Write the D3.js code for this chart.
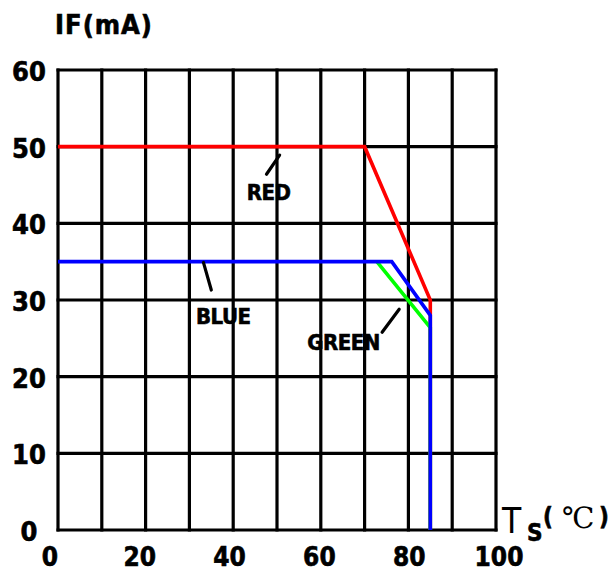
<!DOCTYPE html>
<html>
<head>
<meta charset="utf-8">
<script src="https://cdn.jsdelivr.net/npm/d3@7"></script>
<style>
  html, body { margin: 0; padding: 0; background: #fff; }
  svg { display: block; }
  .lbl { font-family: "DejaVu Sans Condensed", "DejaVu Sans", sans-serif; font-stretch: condensed; font-weight: bold; fill: #000; stroke: #000; stroke-width: 0.6; }
</style>
</head>
<body>
<svg id="chart" width="609" height="576"></svg>
<script>
// ---- data ----
const xTicks = [0, 10, 20, 30, 40, 50, 60, 70, 80, 90, 100];
const yTicks = [0, 10, 20, 30, 40, 50, 60];
const xTickLabels = [0, 20, 40, 60, 80, 100];
const yTickLabels = [0, 10, 20, 30, 40, 50, 60];
const redSeries   = [[0, 50], [70, 50], [85, 30], [85, 0]];
const greenSeries = [[72.8, 35], [85, 26.4], [85, 0]];
const blueSeries  = [[0, 35], [76.2, 35], [85, 28], [85, 0]];
const seriesNames = ["RED", "GREEN", "BLUE"];
const seriesColors = ["#ff0000", "#00ff00", "#0000ff"];
// annotation leader endpoints in data units [x1,y1,x2,y2]
const leaders = [
  [47.6, 46.4, 50.6, 48.9],   // RED
  [74, 25.8, 77.9, 28.8],     // GREEN
  [33.2, 34.9, 35.0, 31.3]    // BLUE
];
const labelPos = [[43.1, 43.1], [56.9, 23.5], [31.5, 26.9]];

// ---- layout ----
const svg = d3.select("#chart");
const x = d3.scaleLinear().domain([0, 100]).range([58, 496]);
const y = d3.scaleLinear().domain([0, 60]).range([530, 70]);
const xLab = d3.scaleLinear().domain([0, 100]).range([50, 499]);

// grid
const g = svg.append("g");
g.selectAll("line.v").data(xTicks).join("line")
  .attr("x1", d => x(d)).attr("x2", d => x(d))
  .attr("y1", y(0) + 1.5).attr("y2", y(60) - 1.5)
  .attr("stroke", "#000").attr("stroke-width", 3.2);
g.selectAll("line.h").data(yTicks).join("line")
  .attr("y1", d => y(d)).attr("y2", d => y(d))
  .attr("x1", x(0) - 1.5).attr("x2", x(100) + 1.5)
  .attr("stroke", "#000").attr("stroke-width", 3.2);

// series
const line = d3.line().x(d => x(d[0])).y(d => y(d[1]));
const allSeries = [redSeries, greenSeries, blueSeries];
svg.selectAll("path.s").data(allSeries).join("path")
  .attr("d", line)
  .attr("fill", "none")
  .attr("stroke", (d, i) => seriesColors[i])
  .attr("stroke-width", 3.6)
  .attr("stroke-linejoin", "miter");

// leaders
svg.selectAll("line.lead").data(leaders).join("line")
  .attr("x1", d => x(d[0])).attr("y1", d => y(d[1]))
  .attr("x2", d => x(d[2])).attr("y2", d => y(d[3]))
  .attr("stroke", "#000").attr("stroke-width", 3.2).attr("stroke-linecap", "round");

// series labels
svg.selectAll("text.sl").data(seriesNames).join("text")
  .attr("class", "lbl")
  .attr("x", (d, i) => x(labelPos[i][0]))
  .attr("y", (d, i) => y(labelPos[i][1]))
  .attr("font-size", 22)
  .attr("letter-spacing", -0.5)
  .text(d => d);

// y tick labels
svg.selectAll("text.yt").data(yTickLabels).join("text")
  .attr("class", "lbl")
  .attr("x", 29).attr("y", d => y(d) + 11)
  .attr("text-anchor", "middle")
  .attr("font-size", 27)
  .text(d => d);

// x tick labels
svg.selectAll("text.xt").data(xTickLabels).join("text")
  .attr("class", "lbl")
  .attr("x", d => xLab(d)).attr("y", 566)
  .attr("text-anchor", "middle")
  .attr("font-size", 26)
  .text(d => d);

// y axis title
svg.append("text").attr("class", "lbl")
  .attr("x", 55).attr("y", 34)
  .attr("font-size", 27).attr("letter-spacing", 1)
  .text("IF(mA)");

// x axis title
svg.append("text")
  .attr("x", 502).attr("y", 533)
  .attr("font-family", "DejaVu Sans Condensed, DejaVu Sans, sans-serif")
  .attr("font-size", 35).attr("fill", "#000")
  .text("T");
svg.append("text").attr("class", "lbl")
  .attr("x", 527).attr("y", 541)
  .attr("font-size", 24)
  .text("S");
svg.append("text").attr("class", "lbl")
  .attr("x", 543).attr("y", 525)
  .attr("font-size", 24)
  .text("(");
svg.append("text")
  .attr("x", 562).attr("y", 528)
  .attr("font-family", "DejaVu Serif, Liberation Serif, Noto Sans CJK SC, serif")
  .attr("font-size", 29).attr("fill", "#000")
  .text("℃");
svg.append("text").attr("class", "lbl")
  .attr("x", 599).attr("y", 525)
  .attr("font-size", 24)
  .text(")");
</script>
</body>
</html>
